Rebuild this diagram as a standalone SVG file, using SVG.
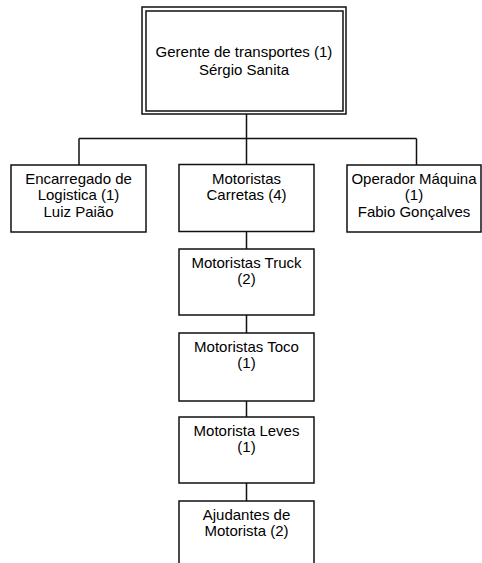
<svg xmlns="http://www.w3.org/2000/svg" width="482" height="563" viewBox="0 0 482 563">
<style>
.box{fill:#fff;stroke:#111;stroke-width:1.5}
.t{font-family:"Liberation Sans",Arial,sans-serif;font-size:15px;fill:#000;text-anchor:middle}
.c{fill:none;stroke:#111;stroke-width:1.5}
</style>
<rect width="482" height="563" fill="#fff"/>
<g id="connectors">
<path class="c" d="M246.5 114V164.5M79 138.5H416.5M79 138.5V165M416.5 138.5V165M246.5 231V249M246.5 315V333M246.5 401V417M246.5 483V501"/>
</g>
<g id="n-gerente">
<rect class="box" x="142" y="7" width="204" height="107" stroke-width="2"/>
<rect class="box" x="146" y="11" width="197" height="100"/>
<text class="t" x="244" y="57">Gerente de transportes (1)</text>
<text class="t" x="244" y="75">Sérgio  Sanita</text>
</g>
<g id="n-logistica">
<rect class="box" x="11" y="165" width="135" height="67"/>
<text class="t" x="78.5" y="183.5">Encarregado de</text>
<text class="t" x="78.5" y="200">Logistica (1)</text>
<text class="t" x="78.5" y="216.5">Luiz  Paião</text>
</g>
<g id="n-carretas">
<rect class="box" x="179" y="164.5" width="135" height="67"/>
<text class="t" x="246.5" y="183.5">Motoristas</text>
<text class="t" x="246.5" y="200">Carretas (4)</text>
</g>
<g id="n-operador">
<rect class="box" x="347" y="165" width="134" height="67"/>
<text class="t" x="414" y="183.5">Operador Máquina</text>
<text class="t" x="414" y="200">(1)</text>
<text class="t" x="414" y="216.5">Fabio Gonçalves</text>
</g>
<g id="n-truck">
<rect class="box" x="179" y="249" width="135" height="66"/>
<text class="t" x="246.5" y="267.5">Motoristas Truck</text>
<text class="t" x="246.5" y="284">(2)</text>
</g>
<g id="n-toco">
<rect class="box" x="179" y="333" width="135" height="68"/>
<text class="t" x="246.5" y="351.5">Motoristas Toco</text>
<text class="t" x="246.5" y="368">(1)</text>
</g>
<g id="n-leves">
<rect class="box" x="179" y="417" width="135" height="66"/>
<text class="t" x="246.5" y="435.5">Motorista  Leves</text>
<text class="t" x="246.5" y="452">(1)</text>
</g>
<g id="n-ajudantes">
<rect class="box" x="179" y="501" width="135" height="70"/>
<text class="t" x="246.5" y="519.5">Ajudantes de</text>
<text class="t" x="246.5" y="536">Motorista (2)</text>
</g>
</svg>
